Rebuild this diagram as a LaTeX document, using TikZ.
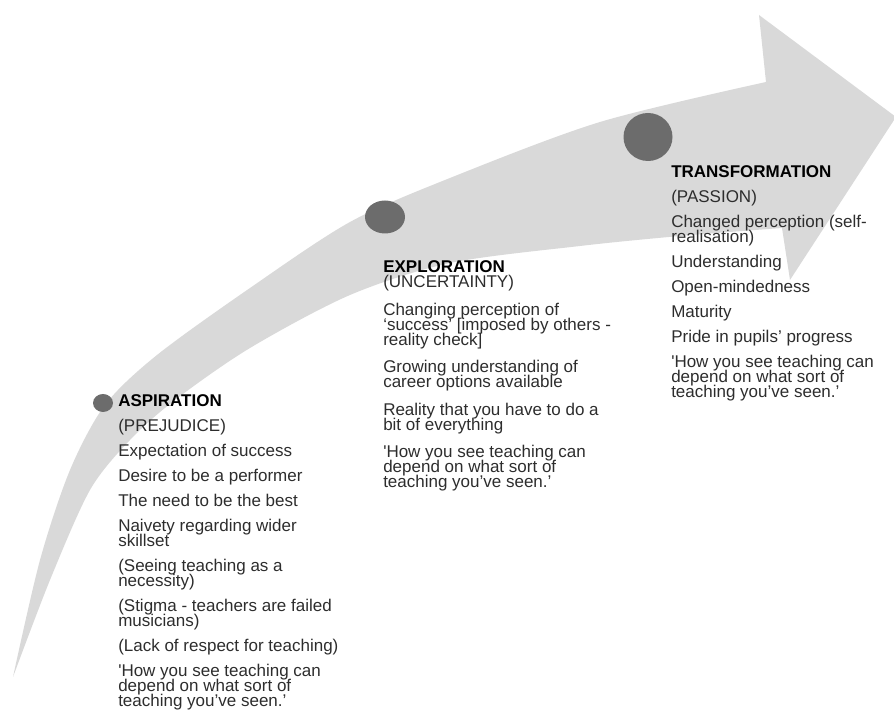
\documentclass[tikz,border=0pt]{standalone}
\usepackage{fontspec}
\setmainfont{Liberation Sans}
\usetikzlibrary{shapes.geometric, positioning}
\definecolor{arrowgrey}{RGB}{217,217,217}
\definecolor{dotgrey}{RGB}{108,108,108}
\definecolor{textgrey}{RGB}{45,45,45}

\begin{document}
\begin{tikzpicture}[
  x=0.75pt, y=-0.75pt,
  every node/.style={font={\fontsize{12.75}{11.25}\selectfont\lineskiplimit=-100pt}},
  stagedot/.style={draw=none, fill=dotgrey, ellipse, inner sep=0pt},
  stage/.style={anchor=north west, align=left, inner sep=0pt, text=textgrey}
]
\useasboundingbox (0,0) rectangle (894,720);

% Arrow
\fill[arrowgrey] plot[smooth] coordinates {(13,677) (40,560) (70,470) (105,405) (157,355)
    (250,288) (350,222) (450,178) (600,122) (766,82)}
  -- (759,15) -- (896,117) -- (790,280) -- (782,228)
  -- plot[smooth] coordinates {(782,228) (680,236) (580,246) (450,263) (350,295)
    (250,348) (175,400) (130,440) (90,490) (50,580) (13,677)}
  -- cycle;

% Nodes
\node[stagedot, minimum width=15pt, minimum height=13.5pt] (aspdot) at (103,403) {};
\node[stagedot, minimum width=30pt, minimum height=24.75pt] (expdot) at (385,217) {};
\node[stagedot, minimum width=36.75pt, minimum height=36pt] (trdot) at (648,137) {};

\node[stage] (asp) at (118,394.7) {%
  {\color{black}\bfseries ASPIRATION}\\[7.5pt]
  (PREJUDICE)\\[7.5pt]
  Expectation of success\\[7.5pt]
  Desire to be a performer\\[7.5pt]
  The need to be the best\\[7.5pt]
  Naivety regarding wider\\
  skillset\\[7.5pt]
  (Seeing teaching as a\\
  necessity)\\[7.5pt]
  (Stigma - teachers are failed\\
  musicians)\\[7.5pt]
  (Lack of respect for teaching)\\[7.5pt]
  \textquotesingle How you see teaching can\\
  depend on what sort of\\
  teaching you've seen.'};

\node[stage] (exp) at (383,260.7) {%
  {\color{black}\bfseries EXPLORATION}\\
  (UNCERTAINTY)\\[9.4pt]
  Changing perception of\\
  `success' [imposed by others -\\
  reality check]\\[9.4pt]
  Growing understanding of\\
  career options available\\[9.4pt]
  Reality that you have to do a\\
  bit of everything\\[9.4pt]
  \textquotesingle How you see teaching can\\
  depend on what sort of\\
  teaching you've seen.'};

\node[stage] (tr) at (671,165.7) {%
  {\color{black}\bfseries TRANSFORMATION}\\[7.5pt]
  (PASSION)\\[7.5pt]
  Changed perception (self-\\
  realisation)\\[7.5pt]
  Understanding\\[7.5pt]
  Open-mindedness\\[7.5pt]
  Maturity\\[7.5pt]
  Pride in pupils' progress\\[7.5pt]
  \textquotesingle How you see teaching can\\
  depend on what sort of\\
  teaching you've seen.'};
\end{tikzpicture}
\end{document}
